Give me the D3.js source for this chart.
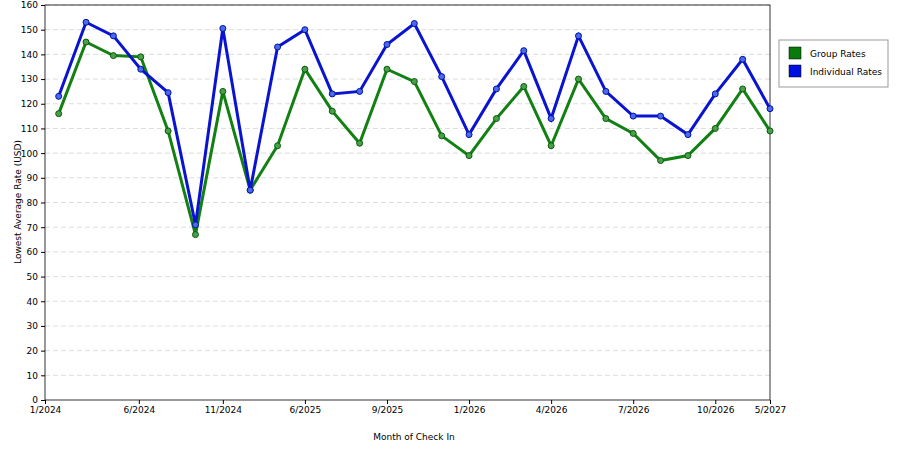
<!DOCTYPE html><html><head><meta charset="utf-8"><script src="https://cdn.jsdelivr.net/npm/d3@7"></script>
<style>body{margin:0;background:#fff}text{font-family:"DejaVu Sans",sans-serif;font-size:9px;fill:#000}</style></head><body><svg id="c" width="900" height="450"></svg><script>
const groupRates=[116,145,139.5,139,109,67,125,85,103,134,117,104,134,129,107,99,114,127,103,130,114,108,97,99,110,126,109];
const individualRates=[123,153,147.5,134,124.5,71,150.5,85,143,150,124,125,144,152.5,131,107.5,126,141.5,114,147.5,125,115,115,107.5,124,138,118];
const tickLabels=["1/2024","6/2024","11/2024","6/2025","9/2025","1/2026","4/2026","7/2026","10/2026","5/2027"];
const tickIdx=[-0.5,2.93,6,9,12,15,18,21,24,26];
const yTicks=d3.range(0,161,10);
const svg=d3.select("#c");
const x=d3.scaleLinear().domain([-0.5,26]).range([45,770]);
const y=d3.scaleLinear().domain([0,160]).range([400,5]);
svg.append("g").selectAll("line").data(yTicks.filter(d=>d>0)).join("line").attr("x1",45).attr("x2",770).attr("y1",y).attr("y2",y).attr("stroke","#ddd").attr("stroke-dasharray","5,3");
svg.append("rect").attr("x",45).attr("y",5).attr("width",725).attr("height",395).attr("fill","none").attr("stroke","#000").attr("stroke-width",0.8);
const ya=svg.append("g").attr("transform","translate(45,0)").call(d3.axisLeft(y).tickValues(yTicks).tickSize(4));
const xa=svg.append("g").attr("transform","translate(0,400)").call(d3.axisBottom(x).tickValues(tickIdx).tickFormat((d,i)=>tickLabels[i]).tickSize(4));
[ya,xa].forEach(a=>{a.select(".domain").remove();a.selectAll("text").style("font-family","DejaVu Sans").style("font-size","9px");});
const series=[[groupRates,"#138013","#0a5a0a","#4aa04a"],[individualRates,"#0a14d0","#0010a0","#4a6aee"]];
const line=d3.line().x((d,i)=>x(i)).y(d=>y(d));
series.forEach(([vals,c,dark,light])=>{
 svg.append("path").datum(vals).attr("d",line).attr("fill","none").attr("stroke",c).attr("stroke-width",3);
 svg.append("g").selectAll("circle").data(vals).join("circle").attr("cx",(d,i)=>x(i)).attr("cy",y).attr("r",3).attr("fill",light).attr("stroke",dark).attr("stroke-width",1);
});
svg.append("text").attr("x",414).attr("y",440).attr("text-anchor","middle").text("Month of Check In");
svg.append("text").attr("transform","translate(21,202) rotate(-90)").attr("text-anchor","middle").text("Lowest Average Rate (USD)");
const lg=svg.append("g");
lg.append("rect").attr("x",779).attr("y",40).attr("width",109).attr("height",47).attr("fill","#fff").attr("stroke","#999");
[["Group Rates","#0a7a0a"],["Individual Rates","#0010e0"]].forEach(([t,c],i)=>{
 lg.append("rect").attr("x",789).attr("y",47+i*18).attr("width",12).attr("height",12).attr("fill",c).attr("stroke","#000").attr("stroke-width",0.5);
 lg.append("text").attr("x",810).attr("y",57+i*18).text(t);
});
</script></body></html>
